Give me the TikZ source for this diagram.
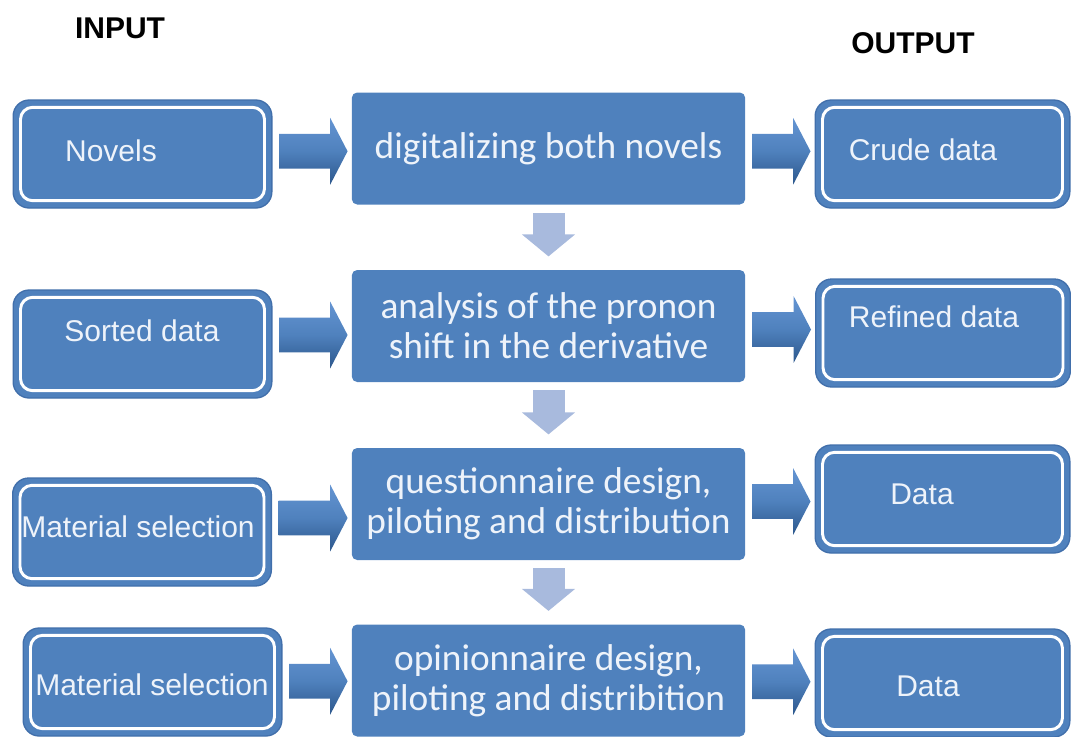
\documentclass[tikz,border=0pt]{standalone}
\usepackage{fontspec}
\setmainfont{Liberation Sans}
\newfontfamily\calibfont{Carlito}
\usetikzlibrary{arrows.meta,calc}
\definecolor{boxblue}{HTML}{4F81BD}
\definecolor{boxedge}{HTML}{416FAB}
\definecolor{boxtext}{HTML}{EEF3FA}
\definecolor{downblue}{HTML}{A8BADD}
\definecolor{arrtop}{HTML}{6494D2}
\definecolor{arrbot}{HTML}{2C578C}

\begin{document}
\begin{tikzpicture}[x=0.75pt,y=-0.75pt,
  inbox/.style={draw=boxedge, line width=1pt, fill=boxblue, rounded corners=12pt,
    minimum width=194pt, minimum height=81pt, inner sep=0pt,
    path picture={\draw[white, line width=2.2pt, rounded corners=9pt]
      ([shift={(5.5pt,-5.5pt)}]path picture bounding box.north west) rectangle
      ([shift={(-5.5pt,5.5pt)}]path picture bounding box.south east);}},
  outbox/.style={inbox, minimum width=191pt},
  midbox/.style={fill=boxblue, rounded corners=4pt, minimum width=295pt,
    minimum height=84pt, inner sep=0pt, text=boxtext, align=center,
    font=\calibfont\fontsize{28}{30}\selectfont},
  boxlabel/.style={text=boxtext, inner sep=0pt, font=\fontsize{22.5}{27}\selectfont},
  header/.style={font=\bfseries\fontsize{22.5}{27}\selectfont, inner sep=0pt},
  downarr/.style={downblue, line width=24pt, shorten <=6pt, shorten >=10pt,
    -{Triangle[width=39pt, length=16.5pt]}},
  blockarr/.style={top color=arrtop, bottom color=arrbot, middle color=boxblue}]
\useasboundingbox (0,0) rectangle (1071,736);

% column headings
\node[header] (inhead) at (120,28) {INPUT};
\node[header] (outhead) at (913,43) {OUTPUT};

% input column
\node[inbox] (in1) at (142.5,154) {};
\node[inbox] (in2) at (142.5,344) {};
\node[inbox] (in3) at (142,532) {};
\node[inbox] (in4) at (152.5,682) {};
\node[boxlabel] (in1t) at (111,151) {Novels};
\node[boxlabel] (in2t) at (142,331) {Sorted data};
\node[boxlabel] (in3t) at (138,527) {Material selection};
\node[boxlabel] (in4t) at (152,685) {Material selection};

% process column
\node[midbox] (mid1) at (548.5,148.5) {digitalizing both novels};
\node[midbox] (mid2) at (548.5,326) {analysis of the pronon\\shift in the derivative};
\node[midbox] (mid3) at (548.5,504) {questionnaire design,\\piloting and distribution};
\node[midbox] (mid4) at (548.5,680.5) {opinionnaire design,\\piloting and distribition};

% output column
\node[outbox] (out1) at (942.5,154) {};
\node[outbox] (out2) at (943,333) {};
\node[outbox] (out3) at (942.5,499) {};
\node[outbox] (out4) at (942.5,683) {};
\node[boxlabel] (out1t) at (923,150) {Crude data};
\node[boxlabel] (out2t) at (934,317) {Refined data};
\node[boxlabel] (out3t) at (922,494) {Data};
\node[boxlabel] (out4t) at (928,686) {Data};

% steps downwards
\draw[downarr] (mid1) -- (mid2);
\draw[downarr] (mid2) -- (mid3);
\draw[downarr] (mid3) -- (mid4);

% block arrows into and out of each step
\foreach \a/\b in {in1/mid1,in2/mid2,in3/mid3,in4/mid4,mid1/out1,mid2/out2,mid3/out3,mid4/out4}
  \shade[blockarr] let \p1=(\a.east), \p2=(\b.west), \p3=($(\a.east)!.5!(\b.west)$) in
    (\x1+5pt,\y3+13pt) -- (\x2-16pt,\y3+13pt) -- (\x2-16pt,\y3+25pt) -- (\x2-3pt,\y3)
    -- (\x2-16pt,\y3-25pt) -- (\x2-16pt,\y3-13pt) -- (\x1+5pt,\y3-13pt) -- cycle;
\end{tikzpicture}
\end{document}
